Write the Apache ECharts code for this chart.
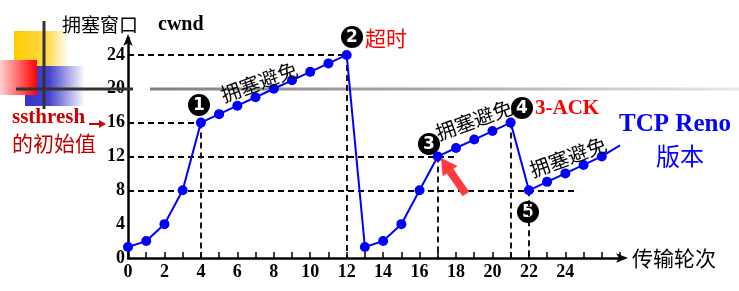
<!DOCTYPE html>
<html><head><meta charset="utf-8">
<script src="https://cdn.jsdelivr.net/npm/echarts@6/dist/echarts.min.js"></script>
<style>html,body{margin:0;padding:0;background:#fff}#c{width:739px;height:291px}</style>
</head><body><div id="c"></div>
<script>
var rounds = [0,1,2,3,4,5,6,7,8,9,10,11,12,13,14,15,16,17,18,19,20,21,22,23,24,25,26];
var cwnd   = [1.3,2,4,8,16,17,18,19,20,21,22,23,24,1.3,2,4,8,12,13,14,15,16,8,9,10,11,12];
var tailPoint = [27, 13.3];
var yTicks = [0,4,8,12,16,20,24];
var xTicks = [0,2,4,6,8,10,12,14,16,18,20,22,24];
var hGuides = [[24,0,12],[16,0,4],[12,0,18],[8,0,24.7]];
var vGuides = [[4,16,0],[12,24,0],[17,12,0],[21,16,0],[22,8,0]];

var data = rounds.map(function(r,i){return [r,cwnd[i]];});
data.push({value: tailPoint, symbol:'none'});

var guideLines = [];
hGuides.forEach(function(g){guideLines.push([{coord:[g[1],g[0]]},{coord:[g[2],g[0]]}]);});
vGuides.forEach(function(g){guideLines.push([{coord:[g[0],g[1]]},{coord:[g[0],g[2]]}]);});

var serif = '"Liberation Serif","DejaVu Serif",serif';
var cjk = '"Noto Sans CJK SC",sans-serif';

function circ(x,y,t){
  return {type:'group', z:50, children:[
    {type:'circle', shape:{cx:x,cy:y,r:11}, style:{fill:'#000'}},
    {type:'text', x:x, y:y+1, style:{text:t, fill:'#fff', font:'bold 17px "DejaVu Sans"', align:'center', verticalAlign:'middle'}}
  ]};
}
function rotText(x,y,t){
  return {type:'text', x:x, y:y, rotation:20*Math.PI/180, z:40,
    style:{text:t, fill:'#000', font:'20px '+cjk, align:'center', verticalAlign:'middle'}};
}

var chart = echarts.init(document.getElementById('c'));
chart.setOption({
  animation:false,
  grid:{left:128, right:119, top:38, bottom:33},
  xAxis:{type:'value', min:0, max:27, interval:1,
    axisLine:{show:true, lineStyle:{color:'#000', width:2.5}, symbol:['none','arrow'], symbolSize:[7,12], symbolOffset:[0,8]},
    axisTick:{show:true, inside:true, length:6, lineStyle:{color:'#000', width:1.5}},
    axisLabel:{margin:5, color:'#000', fontFamily:serif, fontWeight:'bold', fontSize:18,
      formatter:function(v){return xTicks.indexOf(v)>=0 ? String(v) : '';}},
    splitLine:{show:false}},
  yAxis:{type:'value', min:0, max:26, interval:4,
    axisLine:{show:true, lineStyle:{color:'#000', width:2.5}, symbol:['none','arrow'], symbolSize:[7,12], symbolOffset:[0,4]},
    axisTick:{show:false},
    axisLabel:{margin:3, color:'#000', fontFamily:serif, fontWeight:'bold', fontSize:18,
      formatter:function(v){return yTicks.indexOf(v)>=0 ? String(v) : '';}},
    splitLine:{show:false}},
  series:[{
    type:'line', data:data, symbol:'circle', symbolSize:10,
    lineStyle:{color:'#0000ff', width:2}, itemStyle:{color:'#0000ff'}, z:10,
    markLine:{silent:true, symbol:'none', label:{show:false}, z:2,
      lineStyle:{color:'#000', type:[6,4], width:1.8}, data:guideLines}
  }],
  graphic:[
    {type:'rect', z:1, shape:{x:14,y:31,width:55,height:36}, style:{fill:new echarts.graphic.LinearGradient(0,0,1,0,[{offset:0,color:'#ffcc00'},{offset:0.6,color:'#ffd84a'},{offset:1,color:'#ffffff'}])}},
    {type:'rect', z:2, shape:{x:25,y:66,width:60,height:40}, style:{fill:new echarts.graphic.LinearGradient(0,0,1,0,[{offset:0,color:'#3333cc'},{offset:0.4,color:'#4444cc'},{offset:1,color:'#ffffff'}])}},
    {type:'rect', z:3, shape:{x:0,y:60,width:37,height:35}, style:{fill:new echarts.graphic.LinearGradient(0,0,1,0,[{offset:0,color:'#ffd0d0'},{offset:1,color:'#ff0000'}])}},
    {type:'line', z:4, shape:{x1:44,y1:21,x2:44,y2:109}, style:{stroke:'#333', lineWidth:3}},
    {type:'line', z:4, shape:{x1:16,y1:89,x2:133,y2:89}, style:{stroke:'#333', lineWidth:3}},
    {type:'line', z:1, shape:{x1:150,y1:89,x2:739,y2:89}, style:{lineWidth:3, stroke:new echarts.graphic.LinearGradient(0,0,1,0,[{offset:0,color:'#808080'},{offset:0.5,color:'#aaaaaa'},{offset:1,color:'#e8e8e8'}])}},
    {type:'text', x:62, y:25, z:30, style:{text:'拥塞窗口', fill:'#000', font:'19px '+cjk, verticalAlign:'middle'}},
    {type:'text', x:158, y:25, z:30, style:{text:'cwnd', fill:'#000', font:'bold 20px '+serif, verticalAlign:'middle'}},
    {type:'text', x:12, y:118, z:30, style:{text:'ssthresh', fill:'#cc0000', font:'bold 21px '+serif, verticalAlign:'middle'}},
    {type:'text', x:12, y:143, z:30, style:{text:'的初始值', fill:'#c00000', font:'21px '+cjk, verticalAlign:'middle'}},
    {type:'line', z:30, shape:{x1:89,y1:124,x2:101,y2:124}, style:{stroke:'#cc0000', lineWidth:2}},
    {type:'polygon', z:30, shape:{points:[[106,124],[99,120],[99,128]]}, style:{fill:'#cc0000'}},
    circ(199,105,'1'), circ(352,37,'2'), circ(429,144,'3'), circ(522,108,'4'), circ(528,212,'5'),
    {type:'text', x:365, y:38, z:30, style:{text:'超时', fill:'#ff0000', font:'21px '+cjk, verticalAlign:'middle'}},
    {type:'text', x:535, y:109, z:30, style:{text:'3-ACK', fill:'#ff0000', font:'bold 21px '+serif, verticalAlign:'middle'}},
    {type:'text', x:675, y:125, z:30, style:{text:'TCP Reno', fill:'#0000ff', font:'bold 25px '+serif, align:'center', verticalAlign:'middle'}},
    {type:'text', x:680, y:156, z:30, style:{text:'版本', fill:'#0000ff', font:'24px '+cjk, align:'center', verticalAlign:'middle'}},
    {type:'text', x:632, y:258, z:30, style:{text:'传输轮次', fill:'#000', font:'21px '+cjk, verticalAlign:'middle'}},
    rotText(259,82,'拥塞避免'), rotText(474,120,'拥塞避免'), rotText(568,157,'拥塞避免'),
    {type:'polygon', z:45, shape:{points:[[441,158],[457.5,166.1],[453.4,168.9],[469.3,191.7],[462.7,196.3],[446.8,173.5],[442.7,176.3]]}, style:{fill:'#ff3b3b'}}
  ]
});
</script></body></html>
